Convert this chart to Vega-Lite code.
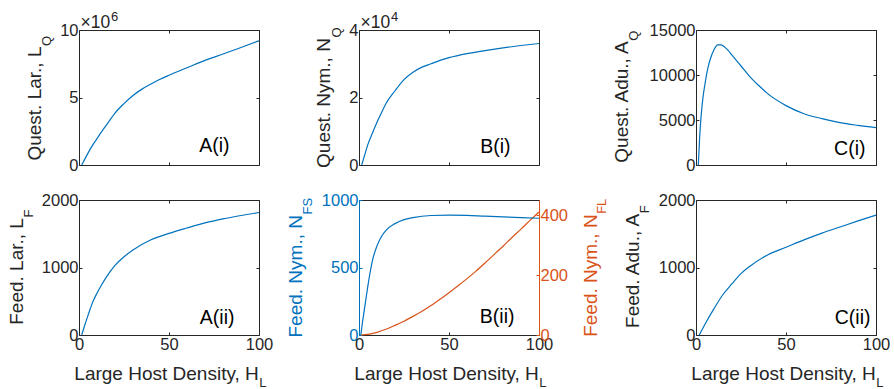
{
  "$schema": "https://vega.github.io/schema/vega-lite/v6.json",
  "padding": {"left": 7, "top": 10, "right": 5, "bottom": 0},
  "config": {
    "view": {"stroke": null},
    "font": "Liberation Sans",
    "axis": {
      "grid": false, "tickSize": -3, "tickWidth": 1, "domainWidth": 1,
      "domainColor": "#262626", "tickColor": "#262626", "labelColor": "#262626", "titleColor": "#262626",
      "labelFont": "Liberation Sans", "titleFont": "Liberation Sans",
      "labelFontSize": 16.5, "titleFontSize": 19, "titleFontWeight": "normal",
      "labelPadding": 4, "titleLimit": 1000, "labelOverlap": false, "labelFlush": false
    }
  },
  "datasets": {
    "LQ": [
      {"H": 1.5, "v": 0}, {"H": 3, "v": 380000}, {"H": 5, "v": 880000}, {"H": 7.5, "v": 1450000},
      {"H": 10, "v": 1950000}, {"H": 12.5, "v": 2450000}, {"H": 15, "v": 2920000}, {"H": 20, "v": 3850000},
      {"H": 25, "v": 4550000}, {"H": 30, "v": 5150000}, {"H": 35, "v": 5620000}, {"H": 40, "v": 6000000},
      {"H": 45, "v": 6350000}, {"H": 50, "v": 6650000}, {"H": 60, "v": 7200000}, {"H": 70, "v": 7750000},
      {"H": 80, "v": 8220000}, {"H": 90, "v": 8700000}, {"H": 100, "v": 9200000}
    ],
    "NQ": [
      {"H": 1.5, "v": 0}, {"H": 3, "v": 2700}, {"H": 5, "v": 6200}, {"H": 7.5, "v": 9500},
      {"H": 10, "v": 12700}, {"H": 12.5, "v": 15500}, {"H": 15, "v": 18200}, {"H": 20, "v": 22000},
      {"H": 25, "v": 25300}, {"H": 30, "v": 27500}, {"H": 35, "v": 29000}, {"H": 40, "v": 30000},
      {"H": 45, "v": 31000}, {"H": 50, "v": 31800}, {"H": 60, "v": 33000}, {"H": 70, "v": 33900},
      {"H": 80, "v": 34700}, {"H": 90, "v": 35400}, {"H": 100, "v": 36000}
    ],
    "AQ": [
      {"H": 1.3, "v": 0}, {"H": 2, "v": 3000}, {"H": 3, "v": 5800}, {"H": 4, "v": 7700},
      {"H": 5, "v": 9000}, {"H": 6, "v": 10200}, {"H": 7, "v": 11100}, {"H": 8, "v": 11800},
      {"H": 10, "v": 12800}, {"H": 12, "v": 13350}, {"H": 14, "v": 13350}, {"H": 16, "v": 13100},
      {"H": 18, "v": 12700}, {"H": 20, "v": 12200}, {"H": 25, "v": 11000}, {"H": 30, "v": 9800},
      {"H": 35, "v": 8800}, {"H": 40, "v": 7900}, {"H": 50, "v": 6600}, {"H": 60, "v": 5700},
      {"H": 70, "v": 5150}, {"H": 80, "v": 4700}, {"H": 90, "v": 4400}, {"H": 100, "v": 4150}
    ],
    "LF": [
      {"H": 1.5, "v": 0}, {"H": 3, "v": 130}, {"H": 5, "v": 290}, {"H": 7.5, "v": 480},
      {"H": 10, "v": 620}, {"H": 12.5, "v": 740}, {"H": 15, "v": 850}, {"H": 20, "v": 1030},
      {"H": 25, "v": 1160}, {"H": 30, "v": 1260}, {"H": 40, "v": 1410}, {"H": 50, "v": 1505},
      {"H": 60, "v": 1585}, {"H": 70, "v": 1660}, {"H": 80, "v": 1720}, {"H": 90, "v": 1770},
      {"H": 100, "v": 1815}
    ],
    "NFS": [
      {"H": 1, "v": 0}, {"H": 2, "v": 100}, {"H": 3, "v": 190}, {"H": 4, "v": 280},
      {"H": 5, "v": 370}, {"H": 6, "v": 450}, {"H": 8, "v": 580}, {"H": 10, "v": 660},
      {"H": 12.5, "v": 730}, {"H": 15, "v": 775}, {"H": 20, "v": 825}, {"H": 25, "v": 855},
      {"H": 30, "v": 870}, {"H": 40, "v": 885}, {"H": 50, "v": 888}, {"H": 60, "v": 886},
      {"H": 70, "v": 880}, {"H": 80, "v": 875}, {"H": 90, "v": 870}, {"H": 100, "v": 865}
    ],
    "NFL": [
      {"H": 1, "v": 0}, {"H": 5, "v": 2}, {"H": 10, "v": 9}, {"H": 15, "v": 19},
      {"H": 20, "v": 32}, {"H": 25, "v": 46}, {"H": 30, "v": 62}, {"H": 35, "v": 79},
      {"H": 40, "v": 98}, {"H": 45, "v": 119}, {"H": 50, "v": 141}, {"H": 55, "v": 164},
      {"H": 60, "v": 188}, {"H": 65, "v": 213}, {"H": 70, "v": 240}, {"H": 75, "v": 268},
      {"H": 80, "v": 296}, {"H": 85, "v": 325}, {"H": 90, "v": 353}, {"H": 95, "v": 382},
      {"H": 100, "v": 410}
    ],
    "AF": [
      {"H": 1.8, "v": 0}, {"H": 5, "v": 160}, {"H": 10, "v": 390}, {"H": 15, "v": 600},
      {"H": 20, "v": 760}, {"H": 25, "v": 910}, {"H": 30, "v": 1020}, {"H": 40, "v": 1190},
      {"H": 50, "v": 1300}, {"H": 60, "v": 1410}, {"H": 70, "v": 1510}, {"H": 80, "v": 1600},
      {"H": 90, "v": 1690}, {"H": 100, "v": 1775}
    ]
  },
  "bounds": "flush",
  "spacing": 170,
  "vconcat": [
    {
      "bounds": "flush",
      "spacing": 617,
      "hconcat": [
        {
          "bounds": "flush",
          "spacing": 100,
          "hconcat": [
            {
              "width": 180, "height": 135,
              "resolve": {"axis": {"x": "independent", "y": "independent"}},
              "layer": [
                {
                  "data": {"name": "LQ"},
                  "mark": {"type": "line", "color": "#0072BD", "strokeWidth": 1.2, "interpolate": "monotone"},
                  "encoding": {
                    "x": {"field": "H", "type": "quantitative", "scale": {"domain": [0, 100], "nice": false},
                      "axis": {"orient": "bottom", "values": [0, 50, 100], "labels": false, "title": null}},
                    "y": {"field": "v", "type": "quantitative", "scale": {"domain": [0, 10000000], "nice": false},
                      "axis": {"orient": "left", "values": [0, 5000000, 10000000], "labelExpr": "datum.value / 1000000",
                        "title": "Quest. Lar., L", "titleX": -39, "titleY": 16, "titleAlign": "right", "titleBaseline": "alphabetic", "titleAngle": -90}}
                  }
                },
                {
                  "data": {"name": "LQ"},
                  "mark": {"type": "line", "strokeOpacity": 0},
                  "encoding": {
                    "x": {"field": "H", "type": "quantitative", "scale": {"domain": [0, 100], "nice": false},
                      "axis": {"orient": "top", "values": [0, 50, 100], "labels": false, "title": "×10", "titleFontSize": 17.5,
                        "titleX": 1, "titleY": -3, "titleAlign": "left", "titleBaseline": "alphabetic", "titleAngle": 0}},
                    "y": {"field": "v", "type": "quantitative", "scale": {"domain": [0, 10000000], "nice": false},
                      "axis": {"orient": "right", "values": [0, 5000000, 10000000], "labels": false,
                        "title": "Q", "titleFontSize": 13, "titleX": -208.5, "titleY": 15.5, "titleAlign": "left", "titleBaseline": "alphabetic", "titleAngle": -90}}
                  }
                },
                {
                  "data": {"name": "LQ"},
                  "mark": {"type": "line", "strokeOpacity": 0},
                  "encoding": {
                    "x": {"field": "H", "type": "quantitative", "scale": {"domain": [0, 100], "nice": false},
                      "axis": {"orient": "top", "domain": false, "ticks": false, "labels": false, "title": "6", "titleFontSize": 13,
                        "titleX": 31.5, "titleY": -10, "titleAlign": "left", "titleBaseline": "alphabetic", "titleAngle": 0}},
                    "y": {"field": "v", "type": "quantitative", "scale": {"domain": [0, 10000000], "nice": false},
                      "axis": {"orient": "left", "domain": false, "ticks": false, "labels": false, "title": "A(i)", "titleFontSize": 19.5, "titleColor": "#000000",
                        "titleX": 150, "titleY": 121, "titleAlign": "right", "titleBaseline": "alphabetic", "titleAngle": 0}}
                  }
                }
              ]
            },
            {
              "width": 180, "height": 135,
              "resolve": {"axis": {"x": "independent", "y": "independent"}},
              "layer": [
                {
                  "data": {"name": "NQ"},
                  "mark": {"type": "line", "color": "#0072BD", "strokeWidth": 1.2, "interpolate": "monotone"},
                  "encoding": {
                    "x": {"field": "H", "type": "quantitative", "scale": {"domain": [0, 100], "nice": false},
                      "axis": {"orient": "bottom", "values": [0, 50, 100], "labels": false, "title": null}},
                    "y": {"field": "v", "type": "quantitative", "scale": {"domain": [0, 40000], "nice": false},
                      "axis": {"orient": "left", "values": [0, 20000, 40000], "labelExpr": "datum.value / 10000",
                        "title": "Quest. Nym., N", "titleX": -29.7, "titleY": 7.6, "titleAlign": "right", "titleBaseline": "alphabetic", "titleAngle": -90}}
                  }
                },
                {
                  "data": {"name": "NQ"},
                  "mark": {"type": "line", "strokeOpacity": 0},
                  "encoding": {
                    "x": {"field": "H", "type": "quantitative", "scale": {"domain": [0, 100], "nice": false},
                      "axis": {"orient": "top", "values": [0, 50, 100], "labels": false, "title": "×10", "titleFontSize": 17.5,
                        "titleX": 1, "titleY": -3, "titleAlign": "left", "titleBaseline": "alphabetic", "titleAngle": 0}},
                    "y": {"field": "v", "type": "quantitative", "scale": {"domain": [0, 40000], "nice": false},
                      "axis": {"orient": "right", "values": [0, 20000, 40000], "labels": false,
                        "title": "Q", "titleFontSize": 13, "titleX": -199, "titleY": 7.1, "titleAlign": "left", "titleBaseline": "alphabetic", "titleAngle": -90}}
                  }
                },
                {
                  "data": {"name": "NQ"},
                  "mark": {"type": "line", "strokeOpacity": 0},
                  "encoding": {
                    "x": {"field": "H", "type": "quantitative", "scale": {"domain": [0, 100], "nice": false},
                      "axis": {"orient": "top", "domain": false, "ticks": false, "labels": false, "title": "4", "titleFontSize": 13,
                        "titleX": 31.5, "titleY": -10, "titleAlign": "left", "titleBaseline": "alphabetic", "titleAngle": 0}},
                    "y": {"field": "v", "type": "quantitative", "scale": {"domain": [0, 40000], "nice": false},
                      "axis": {"orient": "left", "domain": false, "ticks": false, "labels": false, "title": "B(i)", "titleFontSize": 19.5, "titleColor": "#000000",
                        "titleX": 151, "titleY": 122, "titleAlign": "right", "titleBaseline": "alphabetic", "titleAngle": 0}}
                  }
                }
              ]
            }
          ]
        },
        {
          "width": 180, "height": 135,
          "resolve": {"axis": {"x": "independent", "y": "independent"}},
          "layer": [
            {
              "data": {"name": "AQ"},
              "mark": {"type": "line", "color": "#0072BD", "strokeWidth": 1.2, "interpolate": "monotone"},
              "encoding": {
                "x": {"field": "H", "type": "quantitative", "scale": {"domain": [0, 100], "nice": false},
                  "axis": {"orient": "bottom", "values": [0, 50, 100], "labels": false, "title": null}},
                "y": {"field": "v", "type": "quantitative", "scale": {"domain": [0, 15000], "nice": false},
                  "axis": {"orient": "left", "values": [0, 5000, 10000, 15000], "format": "d",
                    "title": "Quest. Adu., A", "titleX": -69, "titleY": 10.75, "titleAlign": "right", "titleBaseline": "alphabetic", "titleAngle": -90}}
              }
            },
            {
              "data": {"name": "AQ"},
              "mark": {"type": "line", "strokeOpacity": 0},
              "encoding": {
                "x": {"field": "H", "type": "quantitative", "scale": {"domain": [0, 100], "nice": false},
                  "axis": {"orient": "top", "values": [0, 50, 100], "labels": false, "title": null}},
                "y": {"field": "v", "type": "quantitative", "scale": {"domain": [0, 15000], "nice": false},
                  "axis": {"orient": "right", "values": [0, 5000, 10000, 15000], "labels": false,
                    "title": "Q", "titleFontSize": 13, "titleX": -238.5, "titleY": 10.25, "titleAlign": "left", "titleBaseline": "alphabetic", "titleAngle": -90}}
              }
            },
            {
              "data": {"name": "AQ"},
              "mark": {"type": "line", "strokeOpacity": 0},
              "encoding": {
                "x": {"field": "H", "type": "quantitative", "scale": {"domain": [0, 100], "nice": false}, "axis": null},
                "y": {"field": "v", "type": "quantitative", "scale": {"domain": [0, 15000], "nice": false},
                  "axis": {"orient": "left", "domain": false, "ticks": false, "labels": false, "title": "C(i)", "titleFontSize": 19.5, "titleColor": "#000000",
                    "titleX": 169, "titleY": 124, "titleAlign": "right", "titleBaseline": "alphabetic", "titleAngle": 0}}
              }
            }
          ]
        }
      ]
    },
    {
      "bounds": "flush",
      "spacing": 617,
      "hconcat": [
        {
          "bounds": "flush",
          "spacing": 100,
          "hconcat": [
            {
              "width": 180, "height": 135,
              "resolve": {"axis": {"x": "independent", "y": "independent"}},
              "layer": [
                {
                  "data": {"name": "LF"},
                  "mark": {"type": "line", "color": "#0072BD", "strokeWidth": 1.2, "interpolate": "monotone"},
                  "encoding": {
                    "x": {"field": "H", "type": "quantitative", "scale": {"domain": [0, 100], "nice": false},
                      "axis": {"orient": "bottom", "values": [0, 50, 100], "labelFlush": false,
                        "title": "Large Host Density, H", "titleX": 179.3, "titleY": 44.3, "titleAlign": "right", "titleBaseline": "alphabetic", "titleAngle": 0}},
                    "y": {"field": "v", "type": "quantitative", "scale": {"domain": [0, 2000], "nice": false},
                      "axis": {"orient": "left", "values": [0, 1000, 2000], "format": "d",
                        "title": "Feed. Lar., L", "titleX": -57, "titleY": 17.6, "titleAlign": "right", "titleBaseline": "alphabetic", "titleAngle": -90}}
                  }
                },
                {
                  "data": {"name": "LF"},
                  "mark": {"type": "line", "strokeOpacity": 0},
                  "encoding": {
                    "x": {"field": "H", "type": "quantitative", "scale": {"domain": [0, 100], "nice": false},
                      "axis": {"orient": "top", "values": [0, 50, 100], "labels": false, "title": "L", "titleFontSize": 13,
                        "titleX": 179.8, "titleY": 186.5, "titleAlign": "left", "titleBaseline": "alphabetic", "titleAngle": 0}},
                    "y": {"field": "v", "type": "quantitative", "scale": {"domain": [0, 2000], "nice": false},
                      "axis": {"orient": "right", "values": [0, 1000, 2000], "labels": false,
                        "title": "F", "titleFontSize": 13, "titleX": -226.5, "titleY": 17.1, "titleAlign": "left", "titleBaseline": "alphabetic", "titleAngle": -90}}
                  }
                },
                {
                  "data": {"name": "LF"},
                  "mark": {"type": "line", "strokeOpacity": 0},
                  "encoding": {
                    "x": {"field": "H", "type": "quantitative", "scale": {"domain": [0, 100], "nice": false}, "axis": null},
                    "y": {"field": "v", "type": "quantitative", "scale": {"domain": [0, 2000], "nice": false},
                      "axis": {"orient": "left", "domain": false, "ticks": false, "labels": false, "title": "A(ii)", "titleFontSize": 19.5, "titleColor": "#000000",
                        "titleX": 155, "titleY": 123.3, "titleAlign": "right", "titleBaseline": "alphabetic", "titleAngle": 0}}
                  }
                }
              ]
            },
            {
              "width": 180, "height": 135,
              "resolve": {"scale": {"y": "independent"}, "axis": {"x": "independent", "y": "independent"}},
              "layer": [
                {
                  "data": {"name": "NFL"},
                  "mark": {"type": "line", "color": "#D95319", "strokeWidth": 1.2, "interpolate": "monotone"},
                  "encoding": {
                    "x": {"field": "H", "type": "quantitative", "scale": {"domain": [0, 100], "nice": false},
                      "axis": {"orient": "top", "values": [0, 50, 100], "labels": false, "title": "L", "titleFontSize": 13,
                        "titleX": 179.8, "titleY": 186.5, "titleAlign": "left", "titleBaseline": "alphabetic", "titleAngle": 0}},
                    "y": {"field": "v", "type": "quantitative", "scale": {"domain": [0, 450], "nice": false},
                      "axis": {"orient": "right", "values": [0, 200, 400], "format": "d",
                        "domainColor": "#D95319", "tickColor": "#D95319", "labelColor": "#D95319", "titleColor": "#D95319",
                        "title": "Feed. Nym., N", "titleX": 57, "titleY": 13.85, "titleAlign": "right", "titleBaseline": "alphabetic", "titleAngle": -90}}
                  }
                },
                {
                  "data": {"name": "NFS"},
                  "mark": {"type": "line", "color": "#0072BD", "strokeWidth": 1.2, "interpolate": "monotone"},
                  "encoding": {
                    "x": {"field": "H", "type": "quantitative", "scale": {"domain": [0, 100], "nice": false},
                      "axis": {"orient": "bottom", "values": [0, 50, 100], "labelFlush": false,
                        "title": "Large Host Density, H", "titleX": 179.3, "titleY": 44.3, "titleAlign": "right", "titleBaseline": "alphabetic", "titleAngle": 0}},
                    "y": {"field": "v", "type": "quantitative", "scale": {"domain": [0, 1000], "nice": false},
                      "axis": {"orient": "left", "values": [0, 500, 1000], "format": "d",
                        "domainColor": "#0072BD", "tickColor": "#0072BD", "labelColor": "#0072BD", "titleColor": "#0072BD",
                        "title": "Feed. Nym., N", "titleX": -58, "titleY": 14.55, "titleAlign": "right", "titleBaseline": "alphabetic", "titleAngle": -90}}
                  }
                },
                {
                  "data": {"name": "NFS"},
                  "mark": {"type": "line", "strokeOpacity": 0},
                  "encoding": {
                    "x": {"field": "H", "type": "quantitative", "scale": {"domain": [0, 100], "nice": false},
                      "axis": {"orient": "bottom", "domain": false, "ticks": false, "labels": false, "title": "B(ii)", "titleFontSize": 19.5, "titleColor": "#000000",
                        "titleX": 155, "titleY": -12.7, "titleAlign": "right", "titleBaseline": "alphabetic", "titleAngle": 0}},
                    "y": {"field": "v", "type": "quantitative", "scale": {"domain": [0, 1000], "nice": false},
                      "axis": {"orient": "left", "domain": false, "ticks": false, "labels": false, "titleColor": "#0072BD",
                        "title": "FS", "titleFontSize": 13, "titleX": -47.5, "titleY": 14.05, "titleAlign": "left", "titleBaseline": "alphabetic", "titleAngle": -90}}
                  }
                },
                {
                  "data": {"name": "NFL"},
                  "mark": {"type": "line", "strokeOpacity": 0},
                  "encoding": {
                    "x": {"field": "H", "type": "quantitative", "scale": {"domain": [0, 100], "nice": false}, "axis": null},
                    "y": {"field": "v", "type": "quantitative", "scale": {"domain": [0, 450], "nice": false},
                      "axis": {"orient": "right", "domain": false, "ticks": false, "labels": false, "titleColor": "#D95319",
                        "title": "FL", "titleFontSize": 13, "titleX": 66, "titleY": 13.35, "titleAlign": "left", "titleBaseline": "alphabetic", "titleAngle": -90}}
                  }
                }
              ]
            }
          ]
        },
        {
          "width": 180, "height": 135,
          "resolve": {"axis": {"x": "independent", "y": "independent"}},
          "layer": [
            {
              "data": {"name": "AF"},
              "mark": {"type": "line", "color": "#0072BD", "strokeWidth": 1.2, "interpolate": "monotone"},
              "encoding": {
                "x": {"field": "H", "type": "quantitative", "scale": {"domain": [0, 100], "nice": false},
                  "axis": {"orient": "bottom", "values": [0, 50, 100], "labelFlush": false,
                    "title": "Large Host Density, H", "titleX": 179.3, "titleY": 44.3, "titleAlign": "right", "titleBaseline": "alphabetic", "titleAngle": 0}},
                "y": {"field": "v", "type": "quantitative", "scale": {"domain": [0, 2000], "nice": false},
                  "axis": {"orient": "left", "values": [0, 1000, 2000], "format": "d",
                    "title": "Feed. Adu., A", "titleX": -58, "titleY": 13.35, "titleAlign": "right", "titleBaseline": "alphabetic", "titleAngle": -90}}
              }
            },
            {
              "data": {"name": "AF"},
              "mark": {"type": "line", "strokeOpacity": 0},
              "encoding": {
                "x": {"field": "H", "type": "quantitative", "scale": {"domain": [0, 100], "nice": false},
                  "axis": {"orient": "top", "values": [0, 50, 100], "labels": false, "title": "L", "titleFontSize": 13,
                    "titleX": 179.8, "titleY": 186.5, "titleAlign": "left", "titleBaseline": "alphabetic", "titleAngle": 0}},
                "y": {"field": "v", "type": "quantitative", "scale": {"domain": [0, 2000], "nice": false},
                  "axis": {"orient": "right", "values": [0, 1000, 2000], "labels": false,
                    "title": "F", "titleFontSize": 13, "titleX": -227.5, "titleY": 12.85, "titleAlign": "left", "titleBaseline": "alphabetic", "titleAngle": -90}}
              }
            },
            {
              "data": {"name": "AF"},
              "mark": {"type": "line", "strokeOpacity": 0},
              "encoding": {
                "x": {"field": "H", "type": "quantitative", "scale": {"domain": [0, 100], "nice": false}, "axis": null},
                "y": {"field": "v", "type": "quantitative", "scale": {"domain": [0, 2000], "nice": false},
                  "axis": {"orient": "left", "domain": false, "ticks": false, "labels": false, "title": "C(ii)", "titleFontSize": 19.5, "titleColor": "#000000",
                    "titleX": 174, "titleY": 123.3, "titleAlign": "right", "titleBaseline": "alphabetic", "titleAngle": 0}}
              }
            }
          ]
        }
      ]
    }
  ]
}
